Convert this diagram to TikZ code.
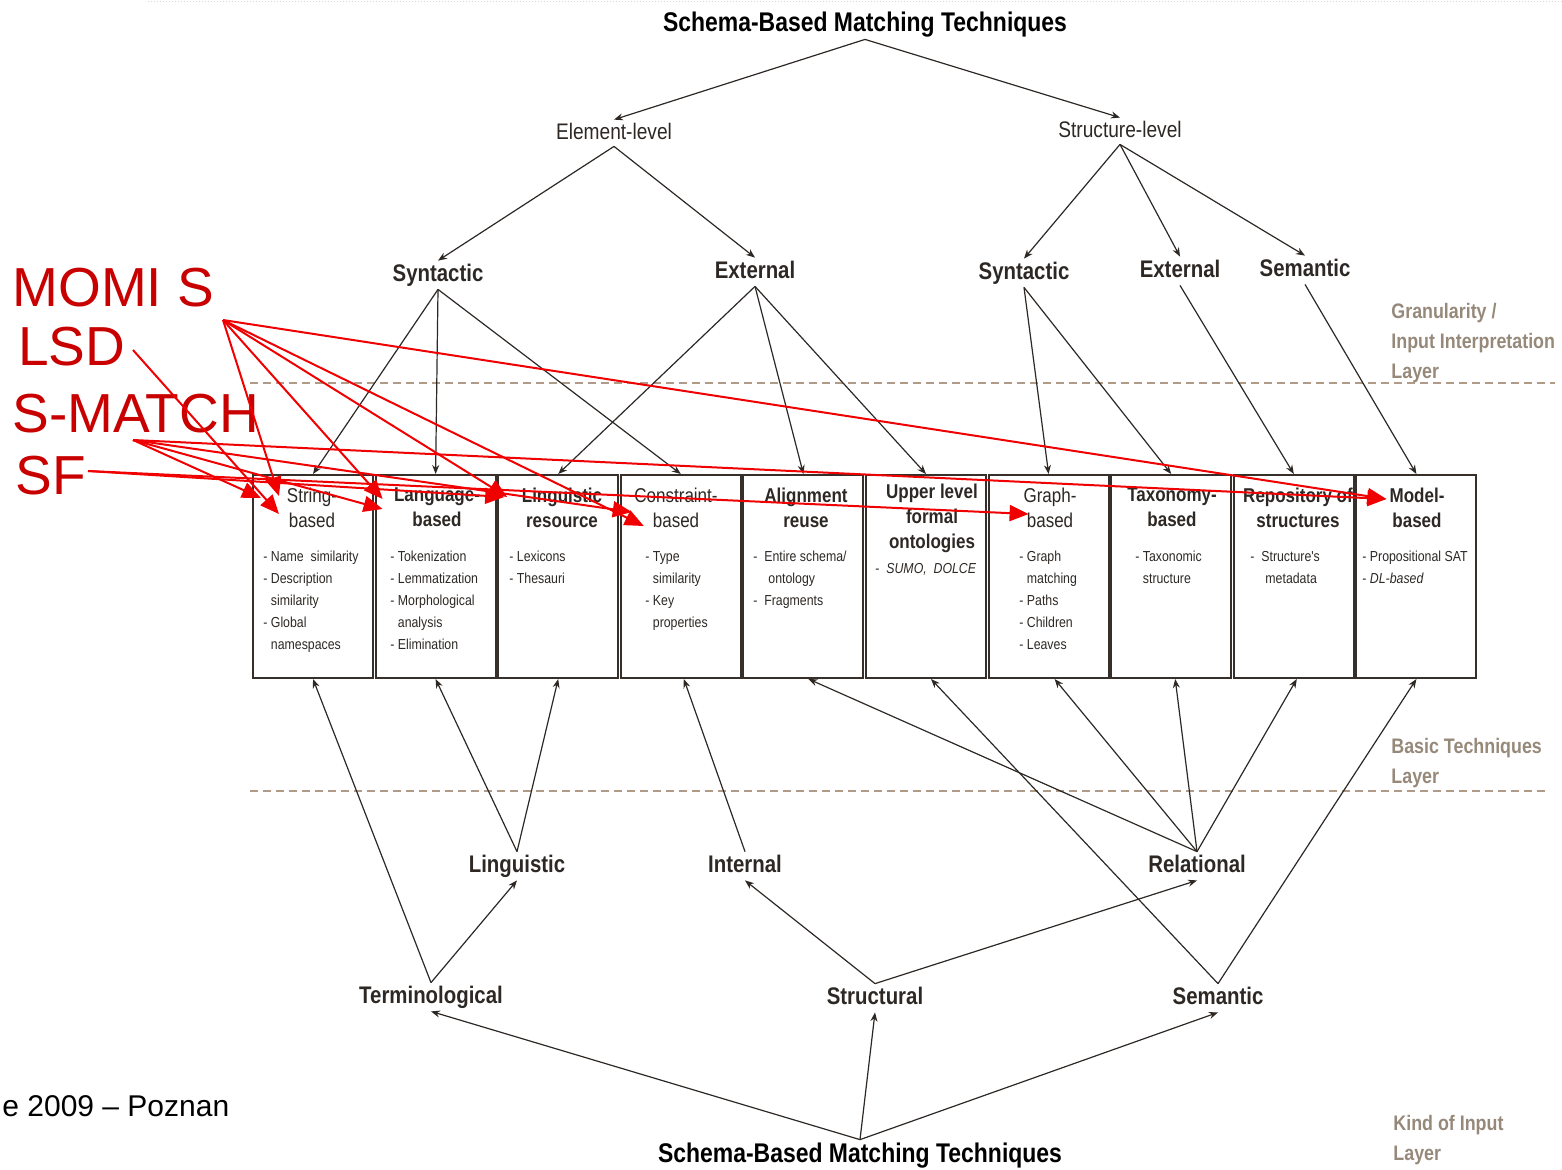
\documentclass[tikz,border=0pt]{standalone}
\usepackage{fontspec}
\setmainfont{Liberation Sans}
\newfontfamily\narrow[FakeStretch=0.85]{Liberation Sans}
\usetikzlibrary{arrows.meta,calc}
\definecolor{ink}{RGB}{45,40,36}
\definecolor{boxline}{RGB}{55,48,42}
\definecolor{layer}{RGB}{150,137,122}
\definecolor{dashc}{RGB}{175,155,135}
\definecolor{redtxt}{RGB}{200,0,0}
\definecolor{redline}{RGB}{240,0,0}
\newcommand\myind{\phantom{-\ }}
\begin{document}
\begin{tikzpicture}[x=0.5pt,y=-0.5pt,
  title/.style={font=\narrow\bfseries\fontsize{13.5}{16}\selectfont, text=black, inner sep=1pt, text height=10pt, text depth=3pt},
  lvltwo/.style={font=\narrow\fontsize{11.25}{13}\selectfont, text=ink, inner sep=1pt, text height=8.5pt, text depth=2.5pt},
  lvlthree/.style={font=\narrow\bfseries\fontsize{12}{14}\selectfont, text=ink, inner sep=1pt, text height=9pt, text depth=3pt},
  box/.style={draw=boxline, line width=1pt, minimum width=60pt, minimum height=101.5pt, inner sep=0pt},
  btb/.style={font=\narrow\bfseries\fontsize{10}{12.5}\selectfont, text=ink, align=center, inner sep=0pt},
  btr/.style={font=\narrow\fontsize{10}{12.5}\selectfont, text=ink, align=center, inner sep=0pt},
  items/.style={font=\narrow\fontsize{7.25}{11}\selectfont, text=ink, align=left, anchor=north west, inner sep=0pt},
  layerlbl/.style={font=\narrow\bfseries\fontsize{10.5}{15}\selectfont, text=layer, align=left, anchor=north west, inner sep=0pt},
  redlbl/.style={font=\fontsize{27.5}{30}\selectfont, text=redtxt, anchor=west, inner sep=0pt, text height=19.7pt, text depth=0pt},
  arr/.style={draw=ink, line width=0.6pt, -{Stealth[length=4.5pt,width=3.5pt]}},
  redarr/.style={draw=redline, line width=1pt, -{Triangle[length=9.5pt,width=8pt]}},
  layerdash/.style={draw=dashc, line width=0.6pt, dash pattern=on 4pt off 2.5pt}
]
\useasboundingbox (0,0) rectangle (1562,1169);
\draw[gray!30, line width=0.5pt, densely dotted] (148,1) -- (1562,1);

% layer separators
\draw[layerdash] (250,383) -- (1555,383);
\draw[layerdash] (250,791) -- (1548,791);

% top hierarchy
\node[title] (t0) at (865,24) {Schema-Based Matching Techniques};
\node[lvltwo] (el) at (614,133) {Element-level};
\node[lvltwo] (sl) at (1120,131) {Structure-level};
\node[lvlthree] (synL) at (438,275) {Syntactic};
\node[lvlthree] (extL) at (755,272) {External};
\node[lvlthree] (synR) at (1024,273) {Syntactic};
\node[lvlthree] (extR) at (1180,271) {External};
\node[lvlthree] (semR) at (1305,270) {Semantic};

% boxes
\node[box] (b1) at (313,576.5) {};
\node[box] (b2) at (435.6,576.5) {};
\node[box] (b3) at (558.2,576.5) {};
\node[box] (b4) at (680.8,576.5) {};
\node[box] (b5) at (803.4,576.5) {};
\node[box] (b6) at (926,576.5) {};
\node[box] (b7) at (1048.6,576.5) {};
\node[box] (b8) at (1171.2,576.5) {};
\node[box] (b9) at (1293.8,576.5) {};
\node[box] (b10) at (1416.4,576.5) {};

\node[btr] (b1t) at (312,507.5) {String-\\based};
\node[btb] (b2t) at (437,507.5) {Language-\\based};
\node[btb] (b3t) at (562,507.5) {Linguistic\\resource};
\node[btr] (b4t) at (676,507.5) {Constraint-\\based};
\node[btb] (b5t) at (806,507.5) {Alignment\\reuse};
\node[btb] (b6t) at (932,518.5) {Upper level\\formal\\ontologies};
\node[btr] (b7t) at (1050,507.5) {Graph-\\based};
\node[btb] (b8t) at (1172,507.5) {Taxonomy-\\based};
\node[btb] (b9t) at (1298,507.5) {Repository of\\structures};
\node[btb] (b10t) at (1417,507.5) {Model-\\based};

\node[items] (b1i) at (263,551) {- Name~~similarity\\- Description\\\myind similarity\\- Global\\\myind namespaces};
\node[items] (b2i) at (390,551) {- Tokenization\\- Lemmatization\\- Morphological\\\myind analysis\\- Elimination};
\node[items] (b3i) at (509,551) {- Lexicons\\- Thesauri};
\node[items] (b4i) at (645,551) {- Type\\\myind similarity\\- Key\\\myind properties};
\node[items] (b5i) at (753,551) {-~~Entire schema/\\\myind\myind ontology\\-~~Fragments};
\node[items] (b6i) at (875,563) {-~~\textit{SUMO,~~DOLCE}};
\node[items] (b7i) at (1019,551) {- Graph\\\myind matching\\- Paths\\- Children\\- Leaves};
\node[items] (b8i) at (1135,551) {- Taxonomic\\\myind structure};
\node[items] (b9i) at (1250,551) {-~~Structure's\\\myind\myind metadata};
\node[items] (b10i) at (1362,551) {- Propositional SAT\\- \textit{DL-based}};

% bottom hierarchy
\node[lvlthree] (ling) at (517,866) {Linguistic};
\node[lvlthree] (int) at (745,866) {Internal};
\node[lvlthree] (rel) at (1197,866) {Relational};
\node[lvlthree] (term) at (431,997) {Terminological};
\node[lvlthree] (struct) at (875,998) {Structural};
\node[lvlthree] (sem) at (1218,998) {Semantic};
\node[title] (bt) at (860,1155) {Schema-Based Matching Techniques};

% layer labels
\node[layerlbl] (lay1) at (1391,303) {Granularity /\\Input Interpretation\\Layer};
\node[layerlbl] (lay2) at (1391,738) {Basic Techniques\\Layer};
\node[layerlbl] (lay3) at (1393,1115) {Kind of Input\\Layer};

% top connectors
\draw[arr] (t0.south) -- (el.north);
\draw[arr] (t0.south) -- (sl.north);
\draw[arr] (el.south) -- (synL.north);
\draw[arr] (el.south) -- (extL.north);
\draw[arr] (sl.south) -- (synR.north);
\draw[arr] (sl.south) -- (extR.north);
\draw[arr] (sl.south) -- (semR.north);
\draw[arr] (synL.south) -- (b1.north);
\draw[arr] (synL.south) -- (b2.north);
\draw[arr] (synL.south) -- (b4.north);
\draw[arr] (extL.south) -- (b3.north);
\draw[arr] (extL.south) -- (b5.north);
\draw[arr] (extL.south) -- (b6.north);
\draw[arr] (synR.south) -- (b7.north);
\draw[arr] (synR.south) -- (b8.north);
\draw[arr] (extR.south) -- (b9.north);
\draw[arr] (semR.south) -- (b10.north);

% bottom connectors
\draw[arr] (ling.north) -- (b2.south);
\draw[arr] (ling.north) -- (b3.south);
\draw[arr] (term.north) -- (b1.south);
\draw[arr] (term.north) -- (ling.south);
\draw[arr] (int.north) -- ($(b4.south)+(3,0)$);
\draw[arr] (struct.north) -- (int.south);
\draw[arr] (struct.north) -- (rel.south);
\draw[arr] (rel.north) -- ($(b5.south)+(5,0)$);
\draw[arr] (rel.north) -- ($(b7.south)+(6,0)$);
\draw[arr] (rel.north) -- ($(b8.south)+(4,0)$);
\draw[arr] (rel.north) -- ($(b9.south)+(3,0)$);
\draw[arr] (sem.north) -- ($(b6.south)+(5,0)$);
\draw[arr] (sem.north) -- (b10.south);
\draw[arr] (bt.north) -- (term.south);
\draw[arr] (bt.north) -- (struct.south);
\draw[arr] (bt.north) -- (sem.south);

% red annotations
\node[redlbl] (momis) at (12,287) {MOMI S};
\node[redlbl] (lsd) at (18,346) {LSD};
\node[redlbl] (smatch) at (12,413) {S-MATCH};
\node[redlbl] (sf) at (15,475) {SF};
\coordinate (momisO) at (223,320);
\coordinate (lsdO) at (133,350);
\coordinate (smO) at (133,440);
\coordinate (sfO) at (88,471);

\draw[redarr] (momisO) -- ($(b1.north west)+(27,22)$);
\draw[redarr] (momisO) -- ($(b2.north west)+(8,25)$);
\draw[redarr] (momisO) -- ($(b3.north west)+(10,23)$);
\draw[redarr] (momisO) -- ($(b4.north west)+(24,52)$);
\draw[redarr] (momisO) -- ($(b10.north west)+(31,25)$);
\draw[redarr] (lsdO) -- ($(b1.north west)+(27,40)$);
\draw[redarr] (smO) -- ($(b1.north west)+(9,24)$);
\draw[redarr] (smO) -- ($(b2.north west)+(8,35)$);
\draw[redarr] (smO) -- ($(b4.north west)+(12,38)$);
\draw[redarr] (smO) -- ($(b10.north west)+(31,25)$);
\draw[redarr] (sfO) -- ($(b3.north west)+(7,23)$);
\draw[redarr] (sfO) -- ($(b7.north west)+(41,40)$);

% footer
\node[font=\fontsize{15}{18}\selectfont, text=black, anchor=west, inner sep=0pt, text height=10.8pt, text depth=0pt] (foot) at (2,1106) {e 2009 – Poznan};
\end{tikzpicture}
\end{document}
